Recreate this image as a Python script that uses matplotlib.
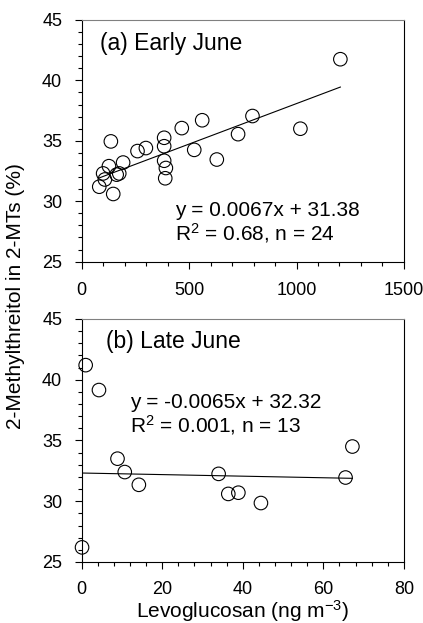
import numpy as np
import matplotlib
matplotlib.use('Agg')
import matplotlib.pyplot as plt
from matplotlib.ticker import MultipleLocator

# 数据：左旋葡聚糖 vs 2-甲基苏糖醇占比
x_early = [82, 100, 108, 127, 136, 147, 163, 175, 193, 260, 299, 384, 384, 384,
           392, 389, 466, 524, 561, 629, 728, 795, 1018, 1204]
y_early = [31.2, 32.3, 31.8, 32.9, 34.95, 30.6, 32.2, 32.3, 33.2, 34.15, 34.4, 35.25,
           34.55, 33.35, 32.75, 31.9, 36.05, 34.25, 36.7, 33.45, 35.55, 37.05, 36.0, 41.75]
fit_early = (0.0067, 31.38)

x_late = [0.1, 1.0, 4.3, 8.9, 10.7, 14.2, 34.0, 36.4, 38.9, 44.5, 65.5, 67.2]
y_late = [26.2, 41.2, 39.15, 33.5, 32.4, 31.35, 32.25, 30.6, 30.7, 29.85, 31.95, 34.5]
fit_late = (-0.0065, 32.32)

plt.rcParams['font.family'] = ['Liberation Sans', 'DejaVu Sans']
plt.rcParams['mathtext.fontset'] = 'custom'
plt.rcParams['mathtext.rm'] = 'Liberation Sans'
plt.rcParams['mathtext.it'] = 'Liberation Sans'


def panel(ax, xs, ys, fit, xmax, xmaj, xmin, title, eq, r2, tpos, epos, xpad=10):
    ax.scatter(xs, ys, s=95, facecolors='none', edgecolors='k', linewidths=0.8,
               zorder=3, clip_on=False)
    xx = np.array([min(xs), max(xs)])
    ax.plot(xx, fit[0] * xx + fit[1], color='k', linewidth=0.8)
    ax.set_xlim(0, xmax)
    ax.set_ylim(25, 45)
    ax.xaxis.set_major_locator(MultipleLocator(xmaj))
    ax.xaxis.set_minor_locator(MultipleLocator(xmin))
    ax.yaxis.set_major_locator(MultipleLocator(5))
    ax.yaxis.set_minor_locator(MultipleLocator(1))
    ax.tick_params(which='major', direction='out', length=5, width=0.8, labelsize=13, pad=9)
    ax.tick_params(which='minor', direction='out', length=3, width=0.8)
    ax.tick_params(axis='x', which='major', pad=xpad)
    ax.spines['top'].set_color('#808080')
    for s in ['left', 'bottom', 'right']:
        ax.spines[s].set_color('k')
    ax.text(tpos[0], tpos[1], title, transform=ax.transAxes, fontsize=16.5, va='baseline')
    ax.text(epos[0], epos[1], eq, transform=ax.transAxes, fontsize=15, va='baseline')
    ax.text(epos[0], epos[1] - 0.1, r2, transform=ax.transAxes, fontsize=15, va='baseline')


fig = plt.figure(figsize=(4.23, 6.23), dpi=100)
ax1 = fig.add_axes([0.193, 0.580, 0.762, 0.388])
ax2 = fig.add_axes([0.193, 0.098, 0.762, 0.390])

panel(ax1, x_early, y_early, fit_early, 1500, 500, 100, '(a) Early June',
      'y = 0.0067x + 31.38', 'R$^2$ = 0.68, n = 24', (0.057, 0.876), (0.289, 0.188))
panel(ax2, x_late, y_late, fit_late, 80, 20, 4, '(b) Late June',
      'y = -0.0065x + 32.32', 'R$^2$ = 0.001, n = 13', (0.075, 0.879), (0.15, 0.632),
      xpad=8.5)

ax2.set_xlabel('Levoglucosan (ng m$^{-3}$)', fontsize=15, labelpad=0)
fig.text(0.036, 0.525, '2-Methylthreitol in 2-MTs (%)', rotation=90, fontsize=15,
         ha='center', va='center')

plt.savefig('out.png', dpi=100)
